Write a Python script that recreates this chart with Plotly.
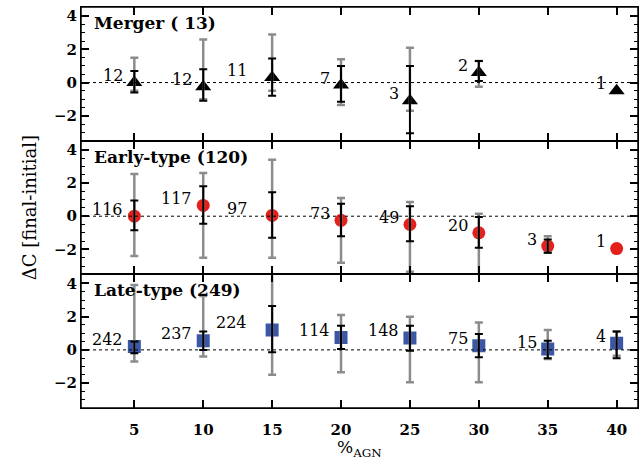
import plotly.graph_objects as go

# ---------------- data ----------------
x_agn = [5, 10, 15, 20, 25, 30, 35, 40]
tick_labels = ["5", "10", "15", "20", "25", "30", "35", "40"]

# Merger (13)
merger_x = [5, 10, 15, 20, 25, 30, 40]
merger_y = [0.0, -0.25, 0.3, -0.15, -1.1, 0.6, -0.5]
merger_black_hi = [0.7, 0.8, 1.45, 1.0, 1.0, 1.3, None]
merger_black_lo = [-0.6, -1.1, -0.8, -1.15, -3.05, 0.1, None]
merger_gray_hi = [1.5, 2.6, 2.9, 1.4, 2.1, 1.3, None]
merger_gray_lo = [-0.5, -1.0, -0.5, -1.35, -1.7, -0.25, None]
merger_n = ["12", "12", "11", "7", "3", "2", "1"]

# Early-type (120)
early_x = [5, 10, 15, 20, 25, 30, 35, 40]
early_y = [0.0, 0.65, 0.05, -0.25, -0.5, -1.0, -1.8, -1.95]
early_black_hi = [0.95, 1.8, 1.45, 0.75, 0.6, -0.05, -1.4, None]
early_black_lo = [-0.85, -0.45, -1.3, -1.2, -1.5, -1.9, -2.2, None]
early_gray_hi = [2.55, 2.6, 3.4, 1.1, 0.85, 0.15, -1.2, None]
early_gray_lo = [-2.4, -2.5, -2.5, -2.8, -3.35, -3.6, -2.2, None]
early_n = ["116", "117", "97", "73", "49", "20", "3", "1"]

# Late-type (249)
late_x = [5, 10, 15, 20, 25, 30, 35, 40]
late_y = [0.2, 0.55, 1.2, 0.75, 0.72, 0.25, 0.05, 0.4]
late_black_hi = [0.5, 1.1, 2.65, 1.45, 1.45, 0.95, 0.55, 1.1]
late_black_lo = [-0.2, 0.0, -0.15, 0.05, -0.05, -0.45, -0.5, -0.5]
late_gray_hi = [3.9, 3.25, 4.7, 2.1, 2.0, 1.65, 1.2, 1.1]
late_gray_lo = [-0.7, -0.4, -1.5, -1.35, -1.95, -1.95, -0.55, -0.35]
late_n = ["242", "237", "224", "114", "148", "75", "15", "4"]

panel_titles = ["Merger ( 13)", "Early-type (120)", "Late-type (249)"]

# ---------------- styling ----------------
SERIF = "DejaVu Serif"
BLACK = "#000000"
GRAY = "#8c8c8c"
RED = "#e4201c"
BLUE = "#3b56a5"
YR = [-3.5, 4.55]
XR = [1.13, 41.55]

panels = [
    dict(x=merger_x, y=merger_y, bh=merger_black_hi, bl=merger_black_lo,
         gh=merger_gray_hi, gl=merger_gray_lo, n=merger_n,
         symbol="triangle-up", color=BLACK, size=14),
    dict(x=early_x, y=early_y, bh=early_black_hi, bl=early_black_lo,
         gh=early_gray_hi, gl=early_gray_lo, n=early_n,
         symbol="circle", color=RED, size=13),
    dict(x=late_x, y=late_y, bh=late_black_hi, bl=late_black_lo,
         gh=late_gray_hi, gl=late_gray_lo, n=late_n,
         symbol="square", color=BLUE, size=13),
]


def err_trace(xs, ys, hi, lo, xa, ya, color, thick):
    ex, ey, plus, minus = [], [], [], []
    for xv, yv, h, l in zip(xs, ys, hi, lo):
        if h is None or l is None:
            continue
        ex.append(xv)
        ey.append(yv)
        plus.append(h - yv)
        minus.append(yv - l)
    return go.Scatter(
        x=ex, y=ey, mode="markers", xaxis=xa, yaxis=ya,
        marker=dict(opacity=0, size=1),
        error_y=dict(type="data", symmetric=False, array=plus, arrayminus=minus,
                     color=color, thickness=thick, width=4),
        showlegend=False, hoverinfo="skip")


fig = go.Figure()
annotations = []
shapes = []
domains = [[2 / 3, 1.0], [1 / 3, 2 / 3], [0.0, 1 / 3]]

for i, p in enumerate(panels):
    k = i + 1
    xa = "x" if k == 1 else f"x{k}"
    ya = "y" if k == 1 else f"y{k}"
    fig.add_trace(go.Scatter(
        x=p["x"], y=p["y"], mode="markers", xaxis=xa, yaxis=ya,
        marker=dict(symbol=p["symbol"], color=p["color"], size=p["size"],
                    line=dict(width=0)),
        showlegend=False, hoverinfo="skip"))
    fig.add_trace(err_trace(p["x"], p["y"], p["gh"], p["gl"], xa, ya, GRAY, 2.5))
    fig.add_trace(err_trace(p["x"], p["y"], p["bh"], p["bl"], xa, ya, BLACK, 2))
    for xv, yv, t in zip(p["x"], p["y"], p["n"]):
        annotations.append(dict(
            x=xv, y=yv, xref=xa, yref=ya, text=t, showarrow=False,
            xanchor="right", yanchor="middle",
            xshift=-23 if xv == 15 else -9, yshift=7,
            font=dict(family=SERIF, size=16, color=BLACK)))
    annotations.append(dict(
        x=0.02, xref="paper", y=0.88, yref=f"{ya} domain", text=panel_titles[i],
        showarrow=False, xanchor="left", yanchor="middle",
        font=dict(family=SERIF, size=17, color=BLACK, weight="bold")))
    shapes.append(dict(type="line", xref=f"{xa} domain", x0=0, x1=1,
                       yref=ya, y0=0, y1=0,
                       line=dict(color=BLACK, width=1, dash="dot")))

shapes.append(dict(type="rect", xref="paper", yref="paper", x0=0, x1=1, y0=0, y1=1,
                   line=dict(color=BLACK, width=1.5), layer="above"))

axis_common = dict(showline=True, linecolor=BLACK, linewidth=1, mirror="allticks",
                   ticks="inside", showgrid=False, zeroline=False,
                   tickcolor=BLACK)
tickfont = dict(family=SERIF, size=15, color=BLACK, weight="bold")

layout = dict(
    width=644, height=460,
    margin=dict(l=81, r=6, t=7, b=52),
    paper_bgcolor="white", plot_bgcolor="white",
    annotations=annotations, shapes=shapes,
)
for i in range(3):
    k = i + 1
    xname = "xaxis" if k == 1 else f"xaxis{k}"
    yname = "yaxis" if k == 1 else f"yaxis{k}"
    ya = "y" if k == 1 else f"y{k}"
    xa = "x" if k == 1 else f"x{k}"
    layout[xname] = dict(axis_common, range=XR, tickvals=x_agn, ticktext=tick_labels,
                         ticklen=8, tickwidth=1.5, anchor=ya,
                         domain=[0, 1], showticklabels=(k == 3), tickfont=tickfont,
                         ticklabelstandoff=8)
    layout[yname] = dict(axis_common, range=YR, tick0=0, dtick=2, ticklen=8,
                         tickwidth=1.5, anchor=xa, domain=domains[i],
                         tickfont=tickfont,
                         minor=dict(ticks="inside", dtick=0.5, tick0=0, ticklen=4,
                                    tickwidth=1, tickcolor=BLACK, showgrid=False))

fig.update_layout(**layout)

fig.add_annotation(x=-0.092, xref="paper", y=0.5, yref="paper",
                   text="ΔC [final-initial]", textangle=-90, showarrow=False,
                   xanchor="center", yanchor="middle",
                   font=dict(family=SERIF, size=18, color=BLACK))
fig.add_annotation(x=0.5, xref="paper", y=-0.1, yref="paper",
                   text="%<sub>AGN</sub>", showarrow=False,
                   xanchor="center", yanchor="middle", borderpad=0,
                   font=dict(family=SERIF, size=17, color=BLACK))

fig.write_html("out.html", config={"displayModeBar": False},
               post_script="document.body.style.margin='0px';")
